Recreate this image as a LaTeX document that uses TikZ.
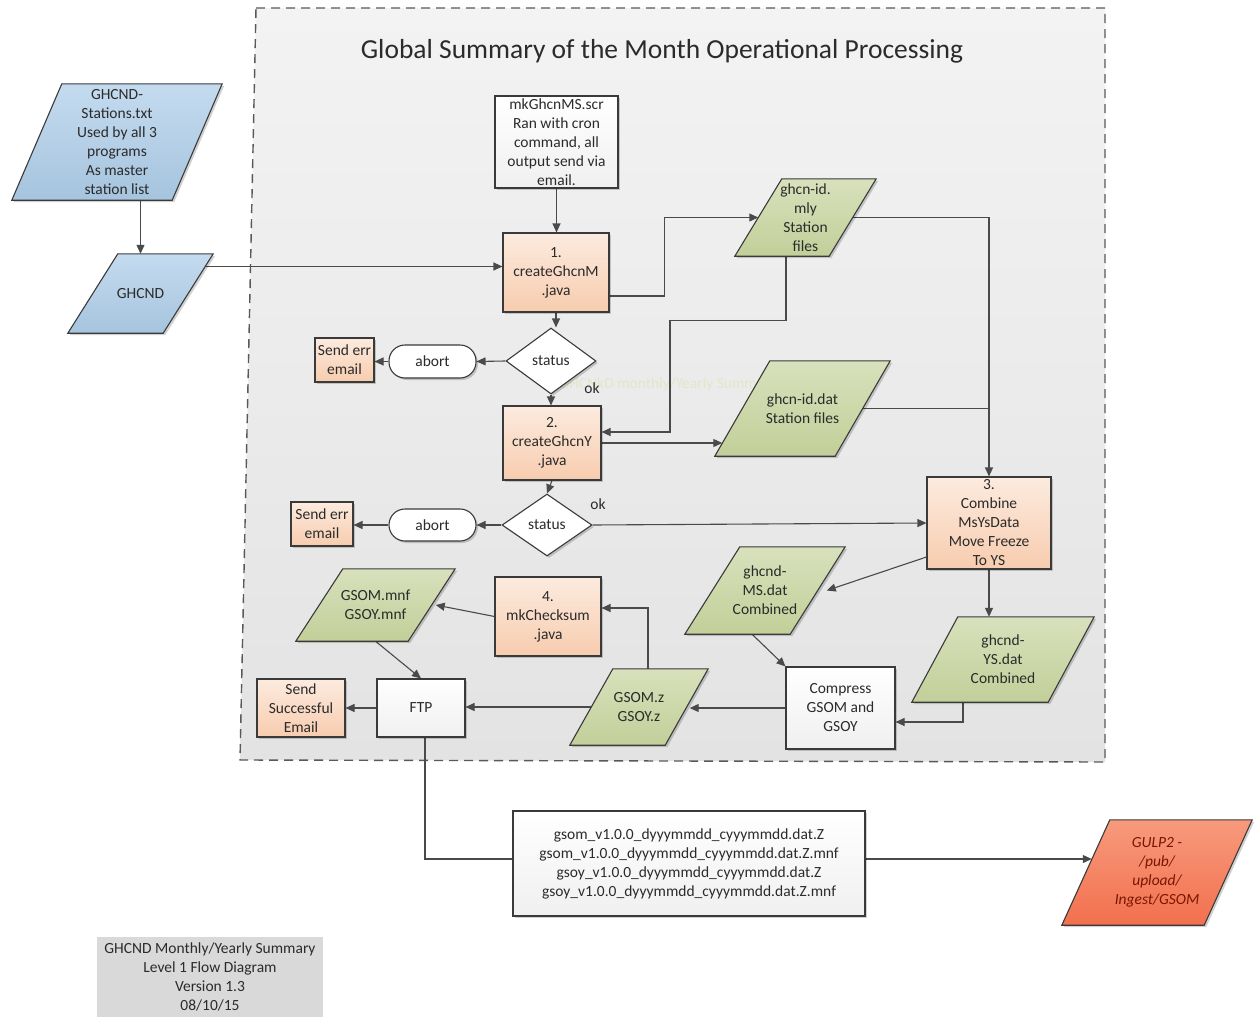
\documentclass[tikz,border=0pt]{standalone}
\usepackage{fontspec}
\setmainfont{Carlito}
\usetikzlibrary{arrows.meta,shapes.geometric,shadows}
\pgfdeclarelayer{bg}\pgfdeclarelayer{edges}\pgfdeclarelayer{shapes}
\pgfsetlayers{bg,edges,shapes,main}
\definecolor{txt}{HTML}{2B2B2B}
\definecolor{bord}{HTML}{3A3A3A}
\definecolor{conn}{HTML}{4A4A4A}
\definecolor{blueT}{HTML}{C4DBEF}
\definecolor{blueB}{HTML}{A6C4DE}
\definecolor{greenT}{HTML}{D8E1BC}
\definecolor{greenB}{HTML}{C2CF99}
\definecolor{peachT}{HTML}{FCEBDF}
\definecolor{peachB}{HTML}{F7CCAE}
\definecolor{redT}{HTML}{F79A7C}
\definecolor{redB}{HTML}{F2704E}
\definecolor{gulptxt}{HTML}{7A1500}
\definecolor{contT}{HTML}{F3F3F3}
\definecolor{contB}{HTML}{E3E3E3}
\definecolor{dashc}{HTML}{595959}
\definecolor{wm}{HTML}{E3E6CA}
\definecolor{lblgray}{HTML}{D9D9D9}
\tikzset{
  fs/.style={font=\fontsize{15.5}{19}\selectfont},
  base/.style={fs, align=center, inner sep=0pt, text=txt},
  shad/.style={drop shadow={shadow xshift=2pt, shadow yshift=-2pt, fill=black, opacity=0.18}},
  box/.style={base, draw=bord, line width=1.1pt, shad},
  peach/.style={box, top color=peachT, bottom color=peachB},
  wbox/.style={box, top color=white, bottom color=white!94!black},
  pgnode/.style={base},
  pgshape/.style={draw=bord, line width=1.1pt, shad},
  blue/.style={top color=blueT, bottom color=blueB},
  green/.style={top color=greenT, bottom color=greenB},
  redfill/.style={top color=redT, bottom color=redB},
  arr/.style={draw=conn, line width=1.1pt, -{Triangle[length=9pt,width=8pt]}},
  plain/.style={draw=conn, line width=1.1pt},
  dia/.style={base, shape=diamond, draw=bord, fill=white, line width=1.1pt, shad},
  abortbox/.style={box, fill=white, rounded corners=16pt},
}
% parallelogram: [node opts]{name}{center}{edge}{height}{slant}{fill style}{text}
\newcommand\pgram[8][]{%
  \node[pgnode,minimum width=#4,minimum height=#5,#1] (#2) at (#3) {#8};
  \begin{pgfonlayer}{shapes}
    \path[pgshape,#7] ([xshift=#6/2]#2.north west) -- ([xshift=#6/2]#2.north east)
      -- ([xshift=-#6/2]#2.south east) -- ([xshift=-#6/2]#2.south west) -- cycle;
  \end{pgfonlayer}}
\begin{document}
\begin{tikzpicture}[x=1pt,y=-1pt]
\useasboundingbox (0,0) rectangle (1254,1017);
% container
\begin{pgfonlayer}{bg}
  \path[draw=dashc, dash pattern=on 9pt off 6pt, line width=1.4pt, top color=contT, bottom color=contB]
    (256,8) -- (1105,8) -- (1105,762) -- (240,760) -- cycle;
  \node[fs, text=wm, anchor=west] (wmark) at (556,384) {GHCNkD monthly/Yearly Summary};
\end{pgfonlayer}
\node[font=\fontsize{27.5}{32}\selectfont, text=txt] (title) at (662,51) {Global Summary of the Month Operational Processing};

% left inputs
\pgram{stations}{117,142}{160}{116}{50}{blue}{GHCND-\\Stations.txt\\Used by all 3\\programs\\As master\\station list}
\pgram{ghcnd}{140.5,293.5}{95}{79}{50}{blue}{GHCND}

% programs
\node[wbox, minimum width=123, minimum height=92] (mk) at (556.5,142) {mkGhcnMS.scr\\Ran with cron\\command, all\\output send via\\email.};
\node[peach, minimum width=106, minimum height=79] (c1) at (556,272.5) {1.\\createGhcnM\\.java};
\pgram{mly}{805.5,217.5}{94}{77}{47}{green}{ghcn-id.\\mly\\Station\\files}

\node[dia, minimum width=90, minimum height=66] (s1) at (551,361) {status};
\node[abortbox, minimum width=87, minimum height=33] (ab1) at (432.5,361.5) {abort};
\node[peach, minimum width=59, minimum height=44] (se1) at (344.5,360) {Send err\\email};
\node[fs, text=txt] (ok1) at (592,388) {ok};

\node[peach, minimum width=98, minimum height=74] (c2) at (552,443) {2.\\createGhcnY\\.java};
\pgram{dat}{802.5,408.5}{120}{95}{55}{green}{ghcn-id.dat\\Station files}

\node[dia, minimum width=90, minimum height=62] (s2) at (547,525) {status};
\node[abortbox, minimum width=87, minimum height=32] (ab2) at (432.5,525) {abort};
\node[peach, minimum width=62, minimum height=44] (se2) at (322,524) {Send err\\email};
\node[fs, text=txt] (ok2) at (598,504) {ok};

\node[peach, minimum width=124, minimum height=92] (comb) at (989,523) {3.\\Combine\\MsYsData\\Move Freeze\\To YS};
\pgram{ms}{765,590.5}{105}{87}{55}{green}{ghcnd-\\MS.dat\\Combined}
\pgram{ys}{1003,659.5}{136}{85}{46}{green}{ghcnd-\\YS.dat\\Combined}
\node[wbox, minimum width=109, minimum height=82] (comp) at (840.5,708) {Compress\\GSOM and\\GSOY};
\pgram{gz}{639,707}{95}{76}{43}{green}{GSOM.z\\GSOY.z}
\node[peach, minimum width=106, minimum height=79] (chk) at (548,616.5) {4.\\mkChecksum\\.java};
\pgram{mnf}{375.5,605}{112}{72}{47}{green}{GSOM.mnf\\GSOY.mnf}
\node[wbox, minimum width=88, minimum height=58] (ftp) at (421,708) {FTP};
\node[peach, minimum width=88, minimum height=58] (ss) at (301,708) {Send\\Successful\\Email};

% outputs
\node[wbox, minimum width=352, minimum height=105] (files) at (689,863.5)
  {gsom\_v1.0.0\_dyyymmdd\_cyyymmdd.dat.Z\\gsom\_v1.0.0\_dyyymmdd\_cyyymmdd.dat.Z.mnf\\gsoy\_v1.0.0\_dyyymmdd\_cyyymmdd.dat.Z\\gsoy\_v1.0.0\_dyyymmdd\_cyyymmdd.dat.Z.mnf};
\pgram[text=gulptxt, font=\fontsize{15.5}{19}\selectfont\itshape]{gulp}{1157,872.5}{142}{105}{48}{redfill}{GULP2 -\\/pub/\\upload/\\Ingest/GSOM}
\node[base, fill=lblgray, minimum width=226, minimum height=80] (lbl) at (210,977)
  {GHCND Monthly/Yearly Summary\\Level 1 Flow Diagram\\Version 1.3\\08/10/15};

% connectors
\begin{pgfonlayer}{edges}
  \draw[arr] (ghcnd.north |- stations.south) -- (ghcnd.north);
  \draw[arr] ([xshift=17pt,yshift=6pt]ghcnd.east |- c1.west) -- ([yshift=6pt]c1.west);
  \draw[arr] (mk.south) -- (mk.south |- c1.north);
  \draw[arr] ([yshift=-23.5pt]c1.east) -- ++(55,0) |- (mly.west);
  \draw[arr] (mly.east) -| (comb.north);
  \draw[arr] ([xshift=-19.5pt]mly.south) -- ++(0,64) -- ++(-116,0) |- ([yshift=11pt]c2.east);
  \draw[arr] (c1.south) -- (c1.south |- s1.north);
  \draw[arr] (s1.west) -- (ab1.east);
  \draw[arr] (ab1.west) -- (ab1.west -| se1.east);
  \draw[arr] (s1.south) -- (s1.south |- c2.north);
  \draw[arr] (c2.east) -- ([xshift=-20pt]dat.west |- c2.east);
  \draw[plain] (dat.east) -- (dat.east -| comb.north);
  \draw[arr] (c2.south) -- (s2.north);
  \draw[arr] (s2.west) -- (ab2.east);
  \draw[arr] (ab2.west) -- (ab2.west -| se2.east);
  \draw[arr] (s2.east) -- (comb.west);
  \draw[arr] ([yshift=-34pt]comb.west) -- ([xshift=9pt]ms.east);
  \draw[arr] (comb.south) -- (comb.south |- ys.north);
  \draw[arr] ([xshift=-13pt]ms.south) -- (comp.north west);
  \draw[arr] ([xshift=-40pt]ys.south) |- ([yshift=-14pt]comp.east);
  \draw[arr] (comp.west) -- ([xshift=3pt]comp.west -| gz.east);
  \draw[arr] ([xshift=9pt]gz.north) |- ([yshift=8.5pt]chk.east);
  \draw[arr] (gz.west) -- (gz.west -| ftp.east);
  \draw[arr] (chk.west) -- ([xshift=4pt]mnf.east);
  \draw[arr] (mnf.south) -- (ftp.north);
  \draw[arr] (ftp.west) -- (ss.east);
  \draw[arr] ([xshift=4pt]ftp.south) |- ([xshift=6pt,yshift=13.5pt]gulp.west);
\end{pgfonlayer}
\end{tikzpicture}
\end{document}
